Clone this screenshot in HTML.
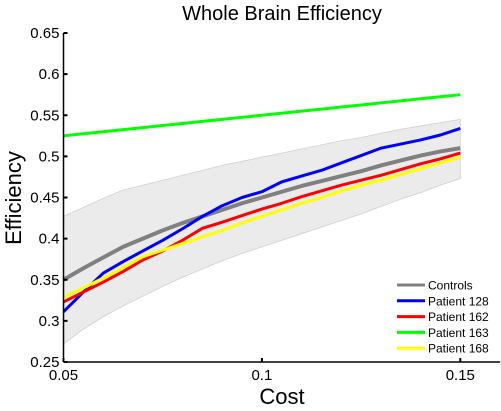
<!DOCTYPE html>
<html><head><meta charset="utf-8"><style>
body{margin:0;background:#fff;}
svg{display:block;font-family:"Liberation Sans",sans-serif;}
</style></head><body>
<svg id="chart" width="501" height="411"></svg>
<script>
const xs=[0.05,0.055,0.06,0.065,0.07,0.075,0.08,0.085,0.09,0.095,0.1,0.105,0.11,0.115,0.12,0.125,0.13,0.135,0.14,0.145,0.15];
const controls=[0.35,0.364,0.377,0.39,0.40,0.41,0.419,0.427,0.435,0.443,0.45,0.457,0.464,0.47,0.476,0.482,0.489,0.495,0.501,0.506,0.51];
const bandUpper=[0.427,0.438,0.449,0.459,0.465,0.471,0.477,0.483,0.489,0.494,0.499,0.504,0.509,0.514,0.519,0.523,0.528,0.533,0.537,0.541,0.545];
const bandLower=[0.272,0.29,0.305,0.318,0.33,0.342,0.353,0.363,0.373,0.382,0.39,0.398,0.406,0.414,0.422,0.43,0.439,0.448,0.456,0.465,0.473];
const p128=[0.311,0.335,0.358,0.372,0.385,0.398,0.412,0.427,0.44,0.45,0.457,0.469,0.476,0.483,0.492,0.501,0.51,0.515,0.52,0.526,0.534];
const p162=[0.323,0.335,0.347,0.36,0.374,0.385,0.398,0.4125,0.42,0.428,0.436,0.443,0.451,0.458,0.465,0.471,0.477,0.484,0.491,0.497,0.504];
const p163=[0.525,0.5275,0.53,0.5325,0.535,0.5375,0.54,0.5425,0.545,0.5475,0.55,0.5525,0.555,0.5575,0.56,0.5625,0.565,0.5675,0.57,0.5725,0.575];
const p168=[0.329,0.34,0.352,0.365,0.378,0.386,0.394,0.402,0.41,0.419,0.427,0.435,0.443,0.45,0.458,0.465,0.471,0.478,0.485,0.492,0.499];
const yTicks=[0.25,0.3,0.35,0.4,0.45,0.5,0.55,0.6,0.65];
const xTicks=[0.05,0.1,0.15];
const seriesNames=["Controls","Patient 128","Patient 162","Patient 163","Patient 168"];
const seriesColors=["#808080","#0000ff","#ff0000","#00ff00","#ffff00"];

const X0=63.5,X1=500,Y0=362,Y1=33;
const sx=v=>X0+(v-0.05)/(0.16-0.05)*(X1-X0);
const sy=v=>Y0-(v-0.25)/(0.65-0.25)*(Y0-Y1);
const svg=document.getElementById('chart');
const NS='http://www.w3.org/2000/svg';
function mk(t,a,txt){const e=document.createElementNS(NS,t);for(const k in a)e.setAttribute(k,a[k]);if(txt!==undefined)e.textContent=txt;svg.appendChild(e);return e;}

let bp='M'+xs.map((x,i)=>sx(x)+','+sy(bandUpper[i])).join('L');
for(let i=xs.length-1;i>=0;i--)bp+='L'+sx(xs[i])+','+sy(bandLower[i]);
const band=mk('path',{d:bp+'Z',fill:'#ebebeb',stroke:'#d0d0d0','stroke-width':0.8});



const all=[controls,p128,p162,p163,p168];
const order=[3,0,1,2,4];
order.forEach(k=>{
  const l=mk('polyline',{points:xs.map((x,i)=>sx(x)+','+sy(all[k][i])).join(' '),fill:'none',stroke:seriesColors[k],'stroke-width':k==0?4:3,'stroke-linejoin':'round'});
  
  
});

const ya=mk('line',{x1:X0,y1:Y1,x2:X0,y2:Y0,stroke:'#000','stroke-width':1.5});


const xa=mk('line',{x1:X0,y1:Y0,x2:X1,y2:Y0,stroke:'#000','stroke-width':1.5});



yTicks.forEach(v=>{
  mk('line',{x1:X0,y1:sy(v),x2:X0+4,y2:sy(v),stroke:'#000','stroke-width':2});
  const t=mk('text',{x:X0-4,y:sy(v)+5,'text-anchor':'end','font-size':15},v.toString());
  
  
});
xTicks.forEach(v=>{
  mk('line',{x1:sx(v),y1:Y0,x2:sx(v),y2:Y0-4,stroke:'#000','stroke-width':2});
  const t=mk('text',{x:sx(v),y:Y0+18,'text-anchor':'middle','font-size':15},v.toString());
  
  
});

const ti=mk('text',{x:282,y:20,'text-anchor':'middle','font-size':20},'Whole Brain Efficiency');


const xt=mk('text',{x:282,y:404,'text-anchor':'middle','font-size':22},'Cost');


const yt=mk('text',{x:0,y:0,'text-anchor':'middle','font-size':22,transform:'translate(21,198) rotate(-90)'},'Efficiency');



seriesNames.forEach((n,i)=>{
  const y=285+i*15.8;
  const g=mk('g',{});
  
  
  const ln=document.createElementNS(NS,'line');
  [['x1',397],['x2',425],['y1',y],['y2',y],['stroke',seriesColors[i]],['stroke-width',3]].forEach(a=>ln.setAttribute(a[0],a[1]));
  g.appendChild(ln);
  const tx=document.createElementNS(NS,'text');
  tx.setAttribute('x',428);tx.setAttribute('y',y+4.5);tx.setAttribute('font-size',12);
  tx.textContent=n;g.appendChild(tx);
});
</script>
</body></html>
